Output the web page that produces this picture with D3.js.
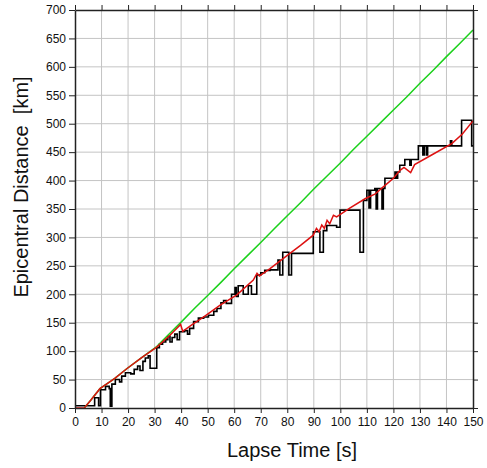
<!DOCTYPE html>
<html>
<head>
<meta charset="utf-8">
<script src="https://cdn.jsdelivr.net/npm/d3@7"></script>
<style>
  body { margin: 0; background: #fff; }
  svg { display: block; font-family: "Liberation Sans", Arial, sans-serif; }
  .grid line { stroke: #c4c4c4; stroke-width: 1; }
  .axis path, .axis line { stroke: #222; }
  .axis text { font-size: 12px; fill: #111; }
</style>
</head>
<body>
<div id="chart"></div>
<script>
// ticks
var xTicks = [0, 10, 20, 30, 40, 50, 60, 70, 80, 90, 100, 110, 120, 130, 140, 150];
var yTicks = [0, 50, 100, 150, 200, 250, 300, 350, 400, 450, 500, 550, 600, 650, 700];

// black stepped trace: [time s, distance km]
var observed = [
  [0, 4], [7.4, 18], [8.9, 4], [9.6, 32], [11.5, 38], [12.9, 34], [13.3, 3], [13.9, 42],
  [15.2, 50], [16.8, 46], [17.6, 56], [19, 62], [21, 60], [22.3, 68], [23.6, 74], [24.5, 66],
  [25.6, 82], [26.5, 88], [27.6, 92], [28.3, 70], [30.8, 106], [31.8, 112], [33, 116],
  [34.2, 120], [35, 126], [35.8, 116], [36.6, 124], [37.6, 130], [38.5, 120], [39.4, 134],
  [41.3, 136], [42.4, 130], [43.2, 140], [44.7, 152], [46.5, 158], [48.5, 160], [50.3, 163],
  [52.3, 170], [53.5, 175], [55, 185], [56, 189], [57, 184], [59, 200], [60.3, 212],
  [60.8, 196], [61.5, 215], [63.4, 200], [65.3, 215], [66.5, 200], [68.5, 234], [70, 238],
  [71.5, 242], [73.5, 243], [76.5, 260], [77.2, 234], [78.3, 274], [80.6, 234], [81.6, 272],
  [89.8, 310], [92.3, 274], [93.6, 312], [94.9, 321], [98.6, 318], [99.9, 348], [107.4, 274],
  [108.7, 365], [110, 383], [110.8, 352], [111.4, 383], [113, 386], [113.5, 350], [114, 386],
  [115.7, 350], [116.2, 386], [116.8, 404], [120.6, 415], [121.2, 404], [121.6, 415],
  [122.4, 427], [124.3, 437], [126.2, 427], [126.7, 437], [129.4, 461], [131.1, 445],
  [131.6, 461], [132.4, 445], [132.9, 461], [141.5, 470], [142, 461], [145.7, 506],
  [149.5, 461], [150, 461]
];

// red curve
var fitted = [
  [0, 0], [3.5, 0], [6, 14], [9.4, 34], [15, 52], [19.5, 69], [25, 88], [30.8, 107],
  [35.8, 128], [39.8, 147], [40.6, 135], [44, 146], [48.4, 160], [54.7, 181], [61, 199],
  [67.2, 225], [68.6, 237], [69.5, 232], [73.5, 245], [81, 272], [85, 286], [89.8, 304],
  [91, 316], [92, 310], [93, 322], [94, 316], [95, 330], [96, 324], [97.4, 339], [98.6, 336],
  [103.7, 352], [109.3, 368], [113, 376], [116.2, 389], [120, 404], [122.5, 418],
  [124, 423], [126.5, 414], [128, 428], [134.4, 445], [142, 465], [146, 482], [150, 505]
];

// green curve
var predicted = [
  [3.5, 0], [6, 14], [9.4, 34], [15, 52], [19.5, 69], [25, 88], [30.8, 108], [35, 128],
  [40, 151], [45, 175], [50, 198], [55, 221], [60, 245], [65, 268], [70, 291], [75, 315],
  [80, 338], [85, 361], [90, 385], [95, 408], [100, 431], [105, 455], [110, 478],
  [115, 501], [120, 524], [125, 547], [130, 571], [135, 594], [140, 618], [145, 641],
  [150, 665]
];

var margin = {top: 10, right: 14, bottom: 60, left: 75};
var width = 487 - margin.left - margin.right;
var height = 468 - margin.top - margin.bottom;

var svg = d3.select("#chart").append("svg")
  .attr("width", 487)
  .attr("height", 468)
  .append("g")
  .attr("transform", "translate(" + margin.left + "," + margin.top + ")");

var x = d3.scaleLinear().domain([0, 150]).range([0, width]);
var y = d3.scaleLinear().domain([0, 700]).range([height, 0]);

// grid
svg.append("g")
  .attr("class", "grid")
  .selectAll("line.gx")
  .data(xTicks.slice(1, -1))
  .enter().append("line")
  .attr("x1", (d) => x(d)).attr("x2", (d) => x(d))
  .attr("y1", 0).attr("y2", height);

svg.append("g")
  .attr("class", "grid")
  .selectAll("line.gy")
  .data(yTicks.slice(1, -1))
  .enter().append("line")
  .attr("y1", (d) => y(d)).attr("y2", (d) => y(d))
  .attr("x1", 0).attr("x2", width);

var line = d3.line()
  .x((d) => x(d[0]))
  .y((d) => y(d[1]));

svg.append("path")
  .datum(observed)
  .attr("fill", "none")
  .attr("stroke", "#000")
  .attr("stroke-width", 1.6)
  .attr("d", line.curve(d3.curveStepAfter)(observed));

line.curve(d3.curveLinear);

svg.append("path")
  .datum(predicted)
  .attr("fill", "none")
  .attr("stroke", "#1bd11b")
  .attr("stroke-width", 1.5)
  .attr("d", line);

svg.append("path")
  .datum(fitted)
  .attr("fill", "none")
  .attr("stroke", "#dd1111")
  .attr("stroke-width", 1.5)
  .attr("d", line);

// axes (frame)
svg.append("g")
  .attr("class", "axis")
  .attr("transform", "translate(0," + height + ")")
  .call(d3.axisBottom(x).tickValues(xTicks).tickSize(5).tickSizeOuter(0).tickPadding(4))
  .selectAll("path").attr("stroke-width", 1.5);

svg.append("g")
  .attr("class", "axis")
  .call(d3.axisTop(x).tickValues(xTicks).tickSize(5).tickSizeOuter(0).tickFormat(""))
  .selectAll("path").attr("stroke-width", 1.5);

svg.append("g")
  .attr("class", "axis")
  .call(d3.axisLeft(y).tickValues(yTicks).tickSize(6).tickSizeOuter(0).tickPadding(3))
  .selectAll("path").attr("stroke-width", 1.5);

svg.append("g")
  .attr("class", "axis")
  .attr("transform", "translate(" + width + ",0)")
  .call(d3.axisRight(y).tickValues(yTicks).tickSize(5).tickSizeOuter(0).tickFormat(""))
  .selectAll("path").attr("stroke-width", 1.5);

// titles
svg.append("text")
  .text("Lapse Time [s]")
  .attr("x", 217)
  .attr("y", height + 49)
  .attr("text-anchor", "middle")
  .style("font-size", "20px")
  .attr("fill", "#111");

svg.append("text")
  .text("Epicentral Distance  [km]")
  .attr("transform", "rotate(-90)")
  .attr("x", -177)
  .attr("y", -47)
  .attr("text-anchor", "middle")
  .style("font-size", "20px")
  .style("white-space", "pre")
  .attr("fill", "#111");
</script>
</body>
</html>
